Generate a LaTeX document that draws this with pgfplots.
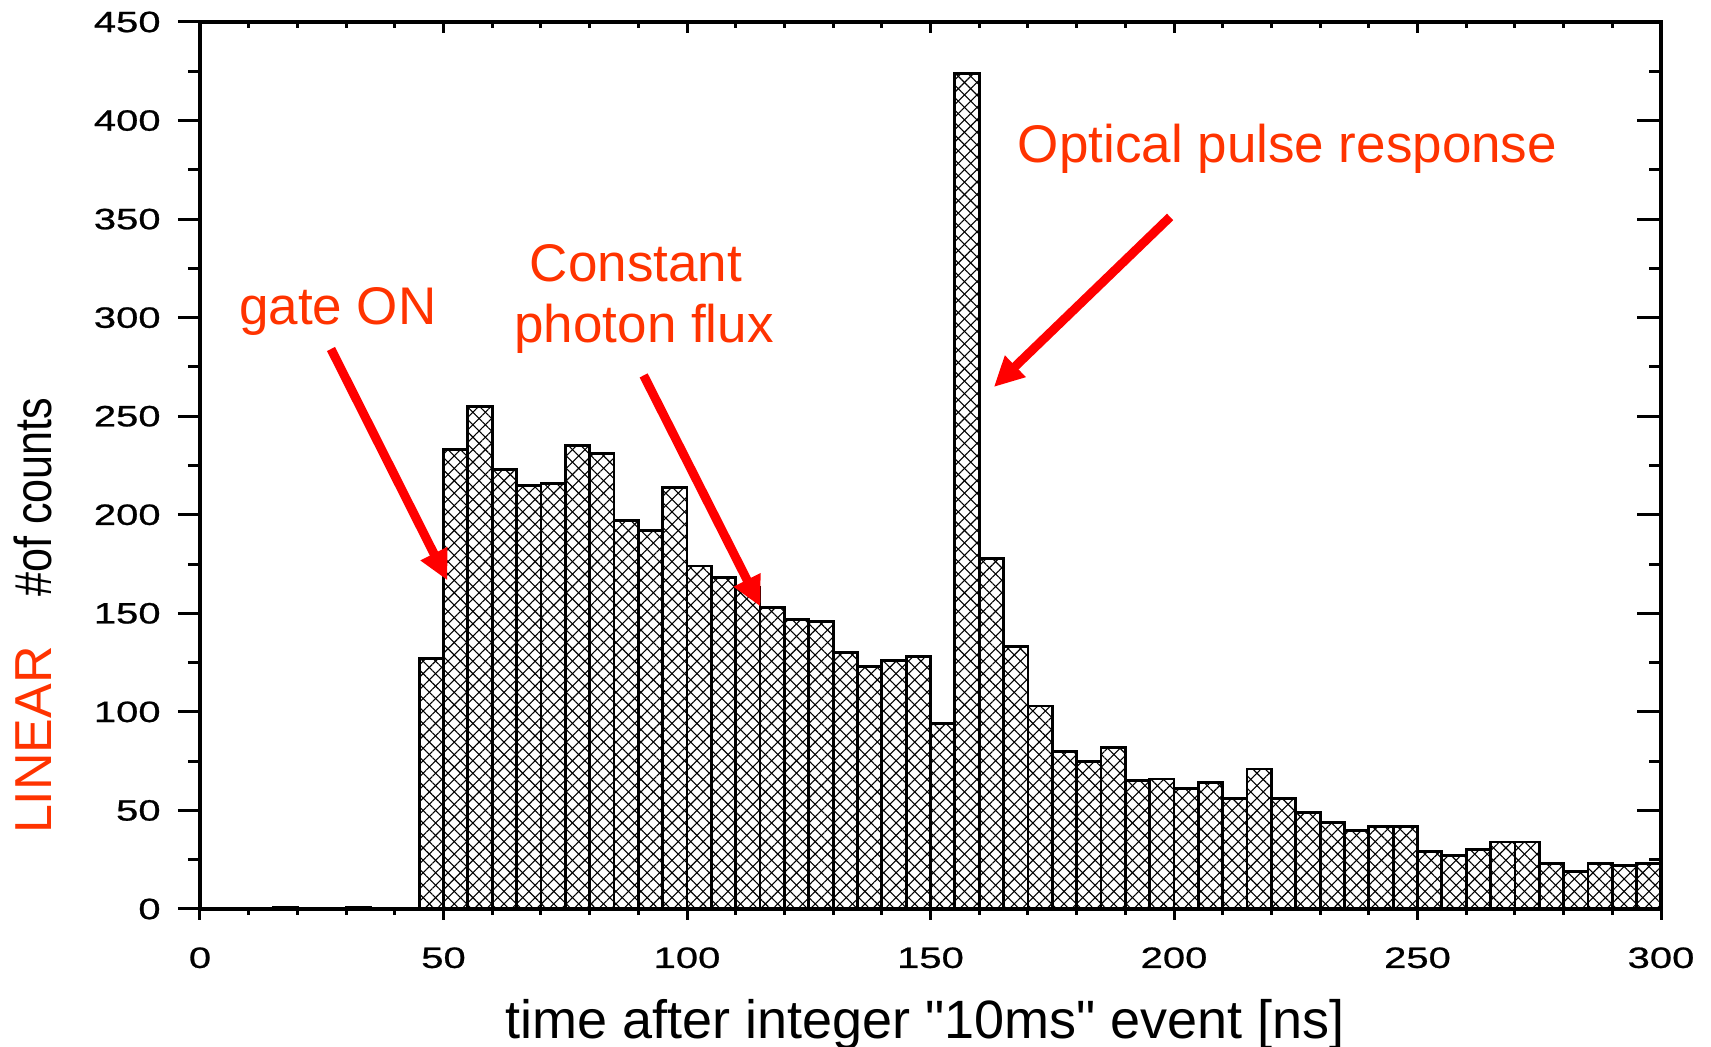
\documentclass[border=0pt]{standalone}
\usepackage{fontspec}
\setmainfont{Liberation Sans}
\newfontfamily\tickfont[FakeStretch=1.36,FakeBold=0.8]{Liberation Sans}
\newfontfamily\condfont[FakeStretch=0.83]{Liberation Sans}
\usepackage{pgfplots}
\pgfplotsset{compat=1.18}
\usepackage{pgfplotstable}
\usetikzlibrary{patterns.meta,arrows.meta}
\definecolor{annot}{RGB}{255,51,0}
\definecolor{arrowred}{RGB}{255,0,0}

\pgfplotstableread{
x y
0 0
5 0
10 0
15 1
20 0
25 0
30 1
35 0
40 0
45 127
50 233
55 255
60 223
65 215
70 216
75 235
80 231
85 197
90 192
95 214
100 174
105 168
110 163
115 153
120 147
125 146
130 130
135 123
140 126
145 128
150 94
155 424
160 178
165 133
170 103
175 80
180 75
185 82
190 65
195 66
200 61
205 64
210 56
215 71
220 56
225 49
230 44
235 40
240 42
245 42
250 29
255 27
260 30
265 34
270 34
275 23
280 19
285 23
290 22
295 23
300 23
}\histdata

\pgfplotsset{
  base/.style={
    scale only axis, width=730.5pt, height=443.5pt,
    xmin=0, xmax=300, ymin=0, ymax=450,
    at={(0pt,0pt)}, anchor=south west,
    axis line style={line width=1.6pt},
    every tick/.append style={line width=1.5pt, black},
    every minor tick/.append style={line width=1.5pt, black},
    /pgf/number format/assume math mode=true,
    tick label style={font=\tickfont\fontsize{14.7}{14.7}\selectfont},
    clip=false,
  }
}

\begin{document}
\begin{tikzpicture}
% y ticks left, outside, with labels
\begin{axis}[base, xtick=\empty, ytick={0,50,...,450}, minor y tick num=1,
  ytick pos=left, tick align=outside, major tick length=11pt, minor tick length=6pt,
  yticklabel style={anchor=east, inner sep=0pt, xshift=-8.5pt}]
\end{axis}
% y ticks right, inside
\begin{axis}[base, xtick=\empty, ytick={0,50,...,450}, minor y tick num=1, yticklabels={},
  ytick pos=right, tick align=inside, major tick length=12pt, minor tick length=6pt]
\end{axis}
% x ticks top, inside
\begin{axis}[base, ytick=\empty, xtick={0,50,...,300}, minor x tick num=4, xticklabels={},
  xtick pos=top, tick align=inside, major tick length=5.5pt, minor tick length=3pt]
\end{axis}
% main axis: data + x ticks bottom outside
\begin{axis}[base, ytick=\empty, xtick={0,50,...,300}, minor x tick num=4,
  xtick pos=bottom, tick align=outside, major tick length=5.5pt, minor tick length=3pt,
  xticklabel style={anchor=north, inner sep=0pt, yshift=-13.5pt},
  axis on top]
\addplot[ybar interval, draw=none, pattern={Lines[angle=45,distance=4.4pt,line width=0.55pt]}, pattern color=black]
  table[x=x,y=y]{\histdata};
\addplot[ybar interval, draw=black, line width=1.4pt, pattern={Lines[angle=-45,distance=4.4pt,line width=0.55pt]}, pattern color=black]
  table[x=x,y=y]{\histdata};

\draw[arrowred, line width=4.5pt, -{Triangle[length=15pt,width=14pt]}] (axis cs:26.9,284.1) -- (axis cs:50.8,166.7);
\draw[arrowred, line width=4.5pt, -{Triangle[length=15pt,width=14pt]}] (axis cs:91.1,270.7) -- (axis cs:115.1,153.4);
\draw[arrowred, line width=4.5pt, -{Triangle[length=15pt,width=14pt]}] (axis cs:199.2,351.1) -- (axis cs:163.0,264.8);

\node[annot, anchor=base, inner sep=0pt, font=\fontsize{26.5}{31.5}\selectfont] at (axis cs:28.3,296.3) {gate ON};
\node[annot, anchor=base, inner sep=0pt, font=\fontsize{26.5}{31.5}\selectfont] at (axis cs:89.5,318.4) {Constant};
\node[annot, anchor=base, inner sep=0pt, font=\fontsize{26.5}{31.5}\selectfont] at (axis cs:91.2,287.2) {photon flux};
\node[annot, anchor=base, inner sep=0pt, font=\fontsize{26.5}{31.5}\selectfont] at (axis cs:223.3,378.5) {Optical pulse response};

\node[black, anchor=base, inner sep=0pt, font=\fontsize{27}{32}\selectfont] at (axis cs:148.9,-65.5) {time after integer \textquotedbl 10ms\textquotedbl{} event [ns]};
\node[annot, rotate=90, anchor=center, inner sep=0pt, font=\fontsize{26}{31}\selectfont] at (axis cs:-34.2,85.7) {LINEAR};
\node[black, rotate=90, anchor=center, inner sep=0pt, font=\condfont\fontsize{26}{31}\selectfont] at (axis cs:-34.4,209.0) {\#of counts};
\end{axis}
\pgfresetboundingbox
\useasboundingbox (-100pt,-69pt) rectangle (755.5pt,454.5pt);
\end{tikzpicture}
\end{document}
